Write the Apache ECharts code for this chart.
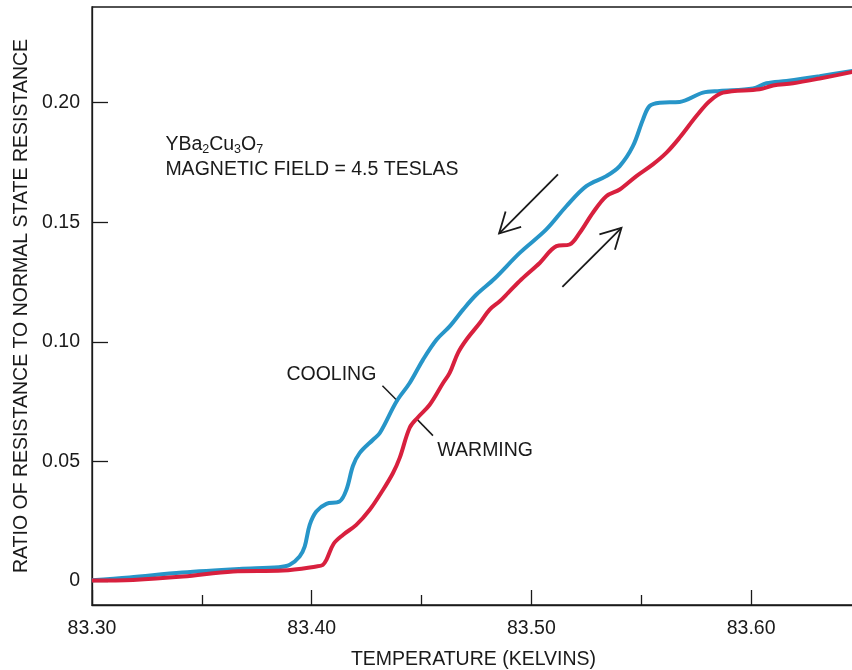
<!DOCTYPE html>
<html>
<head>
<meta charset="utf-8">
<title>YBa2Cu3O7 resistance ratio</title>
<script src="https://cdn.jsdelivr.net/npm/echarts@6/dist/echarts.min.js"></script>
<style>
html, body { margin: 0; padding: 0; background: #fff; }
#chart { width: 852px; height: 670px; }
</style>
</head>
<body>
<div id="chart"></div>
<script>
// values: temperature (K) and ratio of resistance
var coolingT = [83.300, 83.317, 83.341, 83.367, 83.385, 83.390, 83.3945, 83.3968, 83.3991, 83.4021,
  83.4067, 83.4127, 83.4158, 83.4188, 83.4218, 83.4279, 83.4310, 83.4386, 83.4446, 83.4507,
  83.4568, 83.4628, 83.4689, 83.4750, 83.4833, 83.4947, 83.5068, 83.5159, 83.5250, 83.5341,
  83.5402, 83.5462, 83.5508, 83.5538, 83.5584, 83.5675, 83.5781, 83.5857, 83.6009, 83.6070,
  83.6161, 83.6312, 83.6470];
var coolingR = [0.0003, 0.0015, 0.0036, 0.0051, 0.0058, 0.0068, 0.0103, 0.0144, 0.0235, 0.0291,
  0.0323, 0.0333, 0.0382, 0.0482, 0.0535, 0.0591, 0.0619, 0.0751, 0.0828, 0.0926,
  0.1009, 0.1065, 0.1135, 0.1198, 0.1265, 0.1372, 0.1470, 0.1567, 0.1651, 0.1693,
  0.1735, 0.1818, 0.1930, 0.1986, 0.2000, 0.2003, 0.2042, 0.2049, 0.2059, 0.2081,
  0.2091, 0.2111, 0.2134];
var warmingT = [83.300, 83.3187, 83.3414, 83.3642, 83.3869, 83.4021, 83.4051, 83.4067, 83.4100, 83.4142,
  83.4203, 83.4264, 83.4325, 83.4370, 83.4401, 83.4446, 83.4482, 83.4537, 83.4598, 83.4628,
  83.4666, 83.4704, 83.4765, 83.4810, 83.4856, 83.4894, 83.4954, 83.5038, 83.5114, 83.5174,
  83.5220, 83.5280, 83.5341, 83.5402, 83.5478, 83.5553, 83.5615, 83.5675, 83.5751, 83.5812,
  83.5872, 83.6039, 83.6100, 83.6191, 83.6312, 83.6470];
var warmingR = [0.0002, 0.0005, 0.0019, 0.0040, 0.0044, 0.0061, 0.0068, 0.0089, 0.0156, 0.0193,
  0.0235, 0.0298, 0.0382, 0.0452, 0.0516, 0.0641, 0.0683, 0.0737, 0.0828, 0.0870,
  0.0954, 0.1009, 0.1079, 0.1135, 0.1170, 0.1205, 0.1261, 0.1330, 0.1400, 0.1407,
  0.1456, 0.1540, 0.1609, 0.1637, 0.1693, 0.1742, 0.1791, 0.1854, 0.1944, 0.2007,
  0.2042, 0.2056, 0.2072, 0.2081, 0.2101, 0.2130];
var xMajorTicks = [83.30, 83.40, 83.50, 83.60];
var xMinorTicks = [83.35, 83.45, 83.55];
var yTicks = [0, 0.05, 0.10, 0.15, 0.20];

var FONT = '"Liberation Sans", Arial, Helvetica, sans-serif';
var INK = '#1a1a1a';
var FS = 19.5;

function pairs(xs, ys) {
  return xs.map(function (x, i) { return [x, ys[i]]; });
}

var chart = echarts.init(document.getElementById('chart'));

chart.setOption({
  backgroundColor: '#fff',
  animation: false,
  textStyle: { fontFamily: FONT, color: INK },
  grid: {
    left: 92, top: 7, width: 763, height: 598,
    outerBoundsMode: 'none', containLabel: false,
    show: true, borderColor: INK, borderWidth: 1.3, backgroundColor: 'transparent'
  },
  xAxis: [{
    type: 'value', position: 'bottom', min: 83.30, max: 83.6473,
    axisLine: { show: true, onZero: false, lineStyle: { color: INK, width: 1.3 } },
    axisTick: { show: true, inside: true, length: 15, customValues: xMajorTicks, lineStyle: { color: INK, width: 1.3 } },
    axisLabel: {
      customValues: xMajorTicks, margin: 14, fontSize: FS, color: INK, fontFamily: FONT,
      formatter: function (v) { return v.toFixed(2); }
    },
    splitLine: { show: false },
    name: 'TEMPERATURE (KELVINS)', nameLocation: 'middle', nameGap: 45,
    nameTextStyle: { fontSize: FS, color: INK, fontFamily: FONT }
  }, {
    // minor ticks: a second axis pulled down onto the bottom edge
    type: 'value', position: 'top', offset: -598, min: 83.30, max: 83.6473,
    axisLine: { show: false, onZero: false },
    axisTick: { show: true, inside: false, length: 10, customValues: xMinorTicks, lineStyle: { color: INK, width: 1.3 } },
    axisLabel: { show: false },
    splitLine: { show: false }
  }],
  yAxis: {
    type: 'value', min: -0.01, max: 0.24,
    axisLine: { show: true, onZero: false, lineStyle: { color: INK, width: 1.3 } },
    axisTick: { show: true, inside: true, length: 16, customValues: yTicks, lineStyle: { color: INK, width: 1.3 } },
    axisLabel: {
      customValues: yTicks, margin: 12, fontSize: FS, color: INK, fontFamily: FONT,
      padding: [10, 0, 0, 0],
      formatter: function (v) { return v === 0 ? '0' : v.toFixed(2); }
    },
    splitLine: { show: false },
    name: 'RATIO OF RESISTANCE TO NORMAL STATE RESISTANCE', nameLocation: 'middle', nameGap: 60,
    nameTextStyle: { fontSize: FS, color: INK, fontFamily: FONT }
  },
  series: [{
    name: 'COOLING', type: 'line', xAxisIndex: 0, data: pairs(coolingT, coolingR),
    smooth: 0.35, showSymbol: false, clip: true,
    lineStyle: { color: '#2795c8', width: 4 }
  }, {
    name: 'WARMING', type: 'line', xAxisIndex: 0, data: pairs(warmingT, warmingR),
    smooth: 0.35, showSymbol: false, clip: true,
    lineStyle: { color: '#d8203e', width: 4 }
  }]
});

// annotations placed in data space, converted to pixels after layout
function px(t, r) {
  return chart.convertToPixel({ gridIndex: 0 }, [t, r]);
}

function arrow(tail, tip) {
  var a = px(tail[0], tail[1]);
  var b = px(tip[0], tip[1]);
  var back = Math.atan2(a[1] - b[1], a[0] - b[0]);
  var spread = 28.5 * Math.PI / 180;
  var len = 23;
  var w1 = [b[0] + len * Math.cos(back + spread), b[1] + len * Math.sin(back + spread)];
  var w2 = [b[0] + len * Math.cos(back - spread), b[1] + len * Math.sin(back - spread)];
  return [
    { type: 'line', shape: { x1: a[0], y1: a[1], x2: b[0], y2: b[1] }, style: { stroke: INK, lineWidth: 1.8 } },
    { type: 'polyline', shape: { points: [w1, b, w2] }, style: { stroke: INK, lineWidth: 1.8, fill: null } }
  ];
}

function leader(p, q) {
  var a = px(p[0], p[1]);
  var b = px(q[0], q[1]);
  return { type: 'line', shape: { x1: a[0], y1: a[1], x2: b[0], y2: b[1] }, style: { stroke: INK, lineWidth: 1.5 } };
}

// text 'middle' sits a little above the cap centre, so nudge labels down
function label(t, r, text, rich) {
  var p = px(t, r);
  var style = { x: p[0], y: p[1] + 1.5, text: text, fontSize: FS, fontFamily: FONT, fill: INK, align: 'left', verticalAlign: 'middle' };
  if (rich) style.rich = rich;
  return { type: 'text', style: style };
}

var notes = [];
notes.push(label(83.3334, 0.1830, '{n|YBa}{s|2}{n|Cu}{s|3}{n|O}{s|7}', {
  n: { fontSize: FS, fontFamily: FONT, fill: INK },
  s: { fontSize: 12.5, fontFamily: FONT, fill: INK, padding: [10, 0, 0, 0] }
}));
notes.push(label(83.3334, 0.1727, 'MAGNETIC FIELD = 4.5 TESLAS'));
notes.push(label(83.3885, 0.0871, 'COOLING'));
notes.push(leader([83.4322, 0.0817], [83.4393, 0.0751]));
notes.push(label(83.4572, 0.0552, 'WARMING'));
notes.push(leader([83.4481, 0.0675], [83.4552, 0.0608]));
notes = notes.concat(arrow([83.5121, 0.1700], [83.4853, 0.1453]));
notes = notes.concat(arrow([83.5141, 0.1230], [83.5410, 0.1477]));

chart.setOption({ graphic: { elements: notes } });
</script>
</body>
</html>
